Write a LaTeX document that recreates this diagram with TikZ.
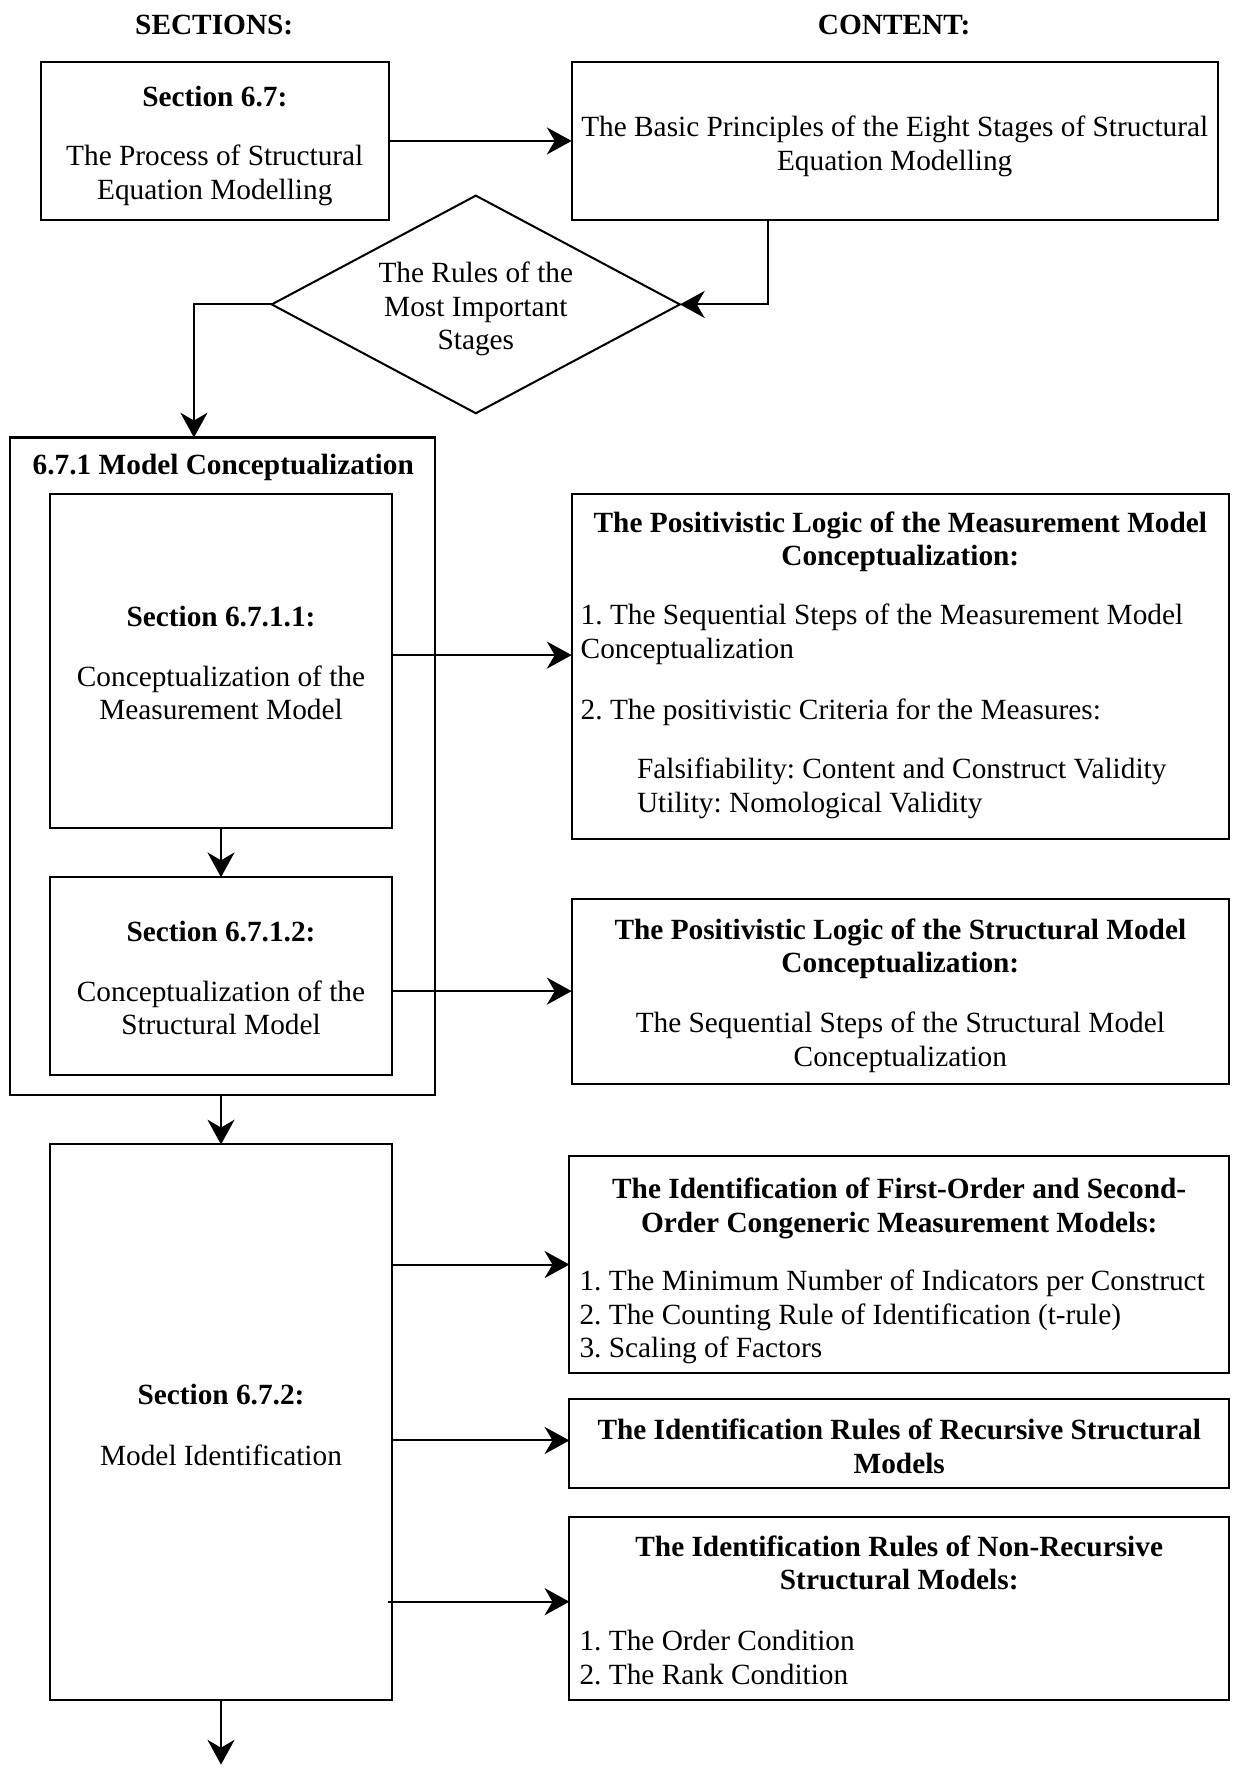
\documentclass[tikz,border=0pt]{standalone}
\usepackage{fontspec}
\setmainfont{Liberation Serif}
\usetikzlibrary{arrows.meta,shapes.geometric}
\setlength{\parindent}{0pt}
\setlength{\parskip}{0pt}
\frenchspacing

\begin{document}
\begin{tikzpicture}[x=0.5pt,y=-0.5pt,
  font=\fontsize{13}{15}\selectfont,
  every node/.style={inner sep=0pt, outer sep=0pt},
  box/.style={draw, line width=0.9pt, rectangle},
  decision/.style={draw, line width=0.9pt, diamond, aspect=1.876,
    minimum width=181pt, minimum height=96.5pt},
  txt/.style={align=center},
  listtxt/.style={text width=283.5pt, align=flush left},
  heading/.style={font=\fontsize{13}{15}\selectfont\bfseries},
  arr/.style={line width=0.9pt, -{Stealth[length=11pt,width=12pt,inset=3.5pt]}}]

\useasboundingbox (0,0) rectangle (1093,1568);

% column headings
\node[heading] (hsec) at (190,22) {SECTIONS:};
\node[heading] (hcon) at (793,22) {CONTENT:};

% top row: frames
\node[box, minimum width=154.5pt, minimum height=70pt] (s67) at (190.5,125) {};
\node[box, minimum width=286.5pt, minimum height=70pt] (basic) at (793.5,125) {};
\node[decision] (rules) at (422,270) {};

% 6.7.1 group: frames
\node[box, minimum width=188.5pt, minimum height=291.5pt] (grp) at (197.5,679.5) {};
\node[box, minimum width=152pt, minimum height=148pt] (s6711) at (196,586) {};
\node[box, minimum width=152pt, minimum height=87.5pt] (s6712) at (196,865.5) {};

% 6.7.2 frame
\node[box, minimum width=152pt, minimum height=246.5pt] (s672) at (196,1261.5) {};

% content column: frames
\node[box, minimum width=291.5pt, minimum height=153pt] (c1) at (798.5,591) {};
\node[box, minimum width=291.5pt, minimum height=82pt] (c2) at (798.5,879) {};
\node[box, minimum width=292.5pt, minimum height=96.5pt] (c3) at (797.5,1121.5) {};
\node[box, minimum width=292.5pt, minimum height=39.5pt] (c4) at (797.5,1280.5) {};
\node[box, minimum width=292.5pt, minimum height=81.5pt] (c5) at (797.5,1426.5) {};

% texts
\node[txt] (s67t) at ([yshift=-2.25pt]s67.center)
  {\textbf{Section 6.7:}\\[11.5pt]The Process of Structural\\Equation Modelling};
\node[txt] (basict) at ([yshift=-2.25pt]basic.center)
  {The Basic Principles of the Eight Stages of Structural\\Equation Modelling};
\node[txt] (rulest) at ([yshift=-2pt]rules.center)
  {The Rules of the\\Most Important\\Stages};
\node[heading] (grpt) at (198,415) {6.7.1 Model Conceptualization};
\node[txt] (s6711t) at ([yshift=-1pt]s6711.center)
  {\textbf{Section 6.7.1.1:}\\[11.5pt]Conceptualization of the\\Measurement Model};
\node[txt] (s6712t) at ([yshift=-1pt]s6712.center)
  {\textbf{Section 6.7.1.2:}\\[11.5pt]Conceptualization of the\\Structural Model};
\node[txt] (s672t) at ([yshift=-1.25pt]s672.center)
  {\textbf{Section 6.7.2:}\\[12pt]Model Identification};

\node[listtxt] (c1t) at ([yshift=0.5pt]c1.center) {%
  {\centering\bfseries The Positivistic Logic of the Measurement Model\\Conceptualization:\par}
  \vspace{11pt}
  1. The Sequential Steps of the Measurement Model\\Conceptualization\par
  \vspace{12pt}
  2. The positivistic Criteria for the Measures:\par
  \vspace{11.5pt}
  \hspace*{25pt}Falsifiability: Content and Construct Validity\\
  \hspace*{25pt}Utility: Nomological Validity\par};
\node[txt] (c2t) at ([yshift=-2pt]c2.center)
  {\textbf{The Positivistic Logic of the Structural Model}\\\textbf{Conceptualization:}\\[11.5pt]%
   The Sequential Steps of the Structural Model\\Conceptualization};
\node[listtxt] (c3t) at ([yshift=-3pt]c3.center) {%
  {\centering\bfseries The Identification of First-Order and Second-\\Order Congeneric Measurement Models:\par}
  \vspace{10.5pt}
  1. The Minimum Number of Indicators per Construct\\
  2. The Counting Rule of Identification (t-rule)\\
  3. Scaling of Factors\par};
\node[txt] (c4t) at ([yshift=-1.25pt]c4.center)
  {\textbf{The Identification Rules of Recursive Structural}\\\textbf{Models}};
\node[listtxt] (c5t) at ([yshift=-0.75pt]c5.center) {%
  {\centering\bfseries The Identification Rules of Non-Recursive\\Structural Models:\par}
  \vspace{12pt}
  1. The Order Condition\\
  2. The Rank Condition\par};

\coordinate (next) at ([yshift=-28.5pt]s672.south);

% connectors
\draw[arr] (s67.east) -- (basic.west);
\draw[arr] ([xshift=-56.25pt]basic.south) |- (rules.east);
\draw[arr] (rules.west) -| ([xshift=-12.75pt]grp.north);
\draw[arr] ([yshift=2.5pt]s6711.east) -- ([yshift=2.5pt]s6711.east -| c1.west);
\draw[arr] (s6711.south) -- (s6712.north);
\draw[arr] (c2.west -| s6712.east) -- (c2.west);
\draw[arr] (s672.north |- grp.south) -- (s672.north);
\draw[arr] (c3.west -| s672.east) -- (c3.west);
\draw[arr] ([yshift=1.5pt]c4.west -| s672.east) -- ([yshift=1.5pt]c4.west);
\draw[arr] ([xshift=-2pt,yshift=3pt]c5.west -| s672.east) -- ([yshift=3pt]c5.west);
\draw[arr] (s672.south) -- (next);

\end{tikzpicture}
\end{document}
